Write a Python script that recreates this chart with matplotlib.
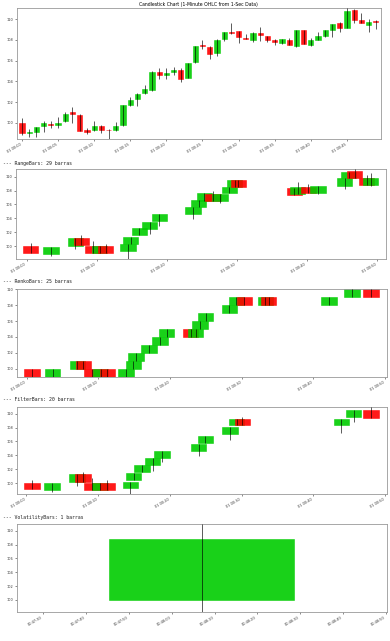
import numpy as np
import pandas as pd
import matplotlib
matplotlib.use('Agg')
import matplotlib.pyplot as plt
import matplotlib.dates as mdates
from matplotlib.ticker import MultipleLocator

# Vela de 1 minuto (OHLC)
base = pd.Timestamp('2024-01-01 00:00:00')
candle_open = [100.0, 99.05, 99.1, 99.68, 99.86, 99.74, 100.16, 101.03, 100.75, 99.3,
               99.26, 99.72, 99.32, 99.26, 99.74, 101.67, 102.32, 102.87, 103.16, 104.86,
               104.64, 104.9, 105.05, 104.32, 105.83, 107.47, 107.34, 106.7, 108.1, 108.73,
               108.86, 108.17, 108.0, 108.63, 108.37, 107.95, 107.7, 108.02, 107.4, 108.99,
               107.54, 107.99, 108.34, 108.95, 109.66, 109.18, 110.88, 109.92, 109.4, 109.85]
candle_high = [100.45, 99.35, 99.6, 100.2, 100.16, 100.6, 101.0, 101.5, 100.8, 99.5,
               100.2, 99.75, 99.35, 100.1, 101.7, 102.45, 102.9, 103.67, 104.95, 105.25,
               105.3, 105.4, 105.25, 105.8, 107.4, 107.95, 107.4, 108.05, 108.8, 109.6,
               108.9, 108.53, 108.75, 109.24, 108.4, 108.1, 108.1, 108.15, 109.0, 109.0,
               108.15, 108.73, 109.0, 109.55, 109.7, 111.05, 110.95, 110.56, 109.98, 109.9]
candle_low = [98.8, 98.65, 98.65, 99.15, 99.5, 99.45, 100.1, 100.0, 99.2, 98.9,
              99.2, 99.0, 98.43, 99.2, 99.7, 101.6, 101.65, 102.8, 103.1, 104.25,
              104.25, 104.57, 103.96, 104.3, 105.8, 107.08, 106.2, 106.47, 107.92, 108.6,
              107.73, 108.05, 107.83, 107.9, 107.83, 107.47, 107.65, 107.5, 107.35, 107.6,
              107.45, 107.95, 108.3, 108.24, 108.76, 109.1, 109.6, 109.6, 108.73, 109.08]
candle_close = [99.05, 99.07, 99.55, 99.95, 99.83, 100.0, 100.8, 100.84, 99.23, 99.15,
                99.72, 99.28, 99.28, 99.72, 101.67, 102.22, 102.8, 103.22, 104.9, 104.64,
                104.8, 105.05, 104.25, 105.76, 107.37, 107.43, 106.63, 108.02, 108.76, 108.7,
                108.28, 108.12, 108.7, 108.5, 108.0, 107.78, 108.05, 107.54, 108.95, 107.63,
                107.95, 108.34, 108.99, 109.5, 109.18, 110.82, 109.92, 109.66, 109.73, 109.7]

# RangeBars (segundos desde el inicio)
range_sec = [37, 210, 418, 469, 568, 628, 677, 870, 894, 968, 1054, 1136, 1427, 1476, 1524,
             1598, 1658, 1736, 1784, 1814, 2296, 2324, 2413, 2498, 2726, 2762, 2813, 2914, 2948]
range_open = [100.04, 98.94, 100.09, 101.15, 100.04, 99.0, 100.04, 99.33, 100.33, 101.58,
              102.53, 103.6, 104.7, 105.64, 106.54, 107.46, 106.46, 107.6, 108.5, 109.5,
              108.3, 107.5, 108.55, 107.6, 108.7, 109.74, 110.75, 109.85, 108.8]
range_high = [100.43, 99.94, 101.15, 101.58, 100.76, 100.04, 100.3, 100.33, 101.38, 102.58,
              103.53, 104.6, 105.7, 106.64, 107.6, 107.93, 107.46, 108.55, 109.5, 109.5,
              108.3, 109.18, 108.94, 108.6, 109.74, 110.7, 111.09, 110.3, 110.47]
range_low = [99.04, 98.65, 99.57, 100.14, 99.0, 99.0, 99.0, 98.18, 100.33, 101.58,
             101.76, 102.95, 103.9, 105.64, 106.54, 106.46, 106.26, 107.6, 108.5, 108.5,
             107.3, 107.5, 107.6, 107.5, 108.18, 109.74, 109.8, 108.8, 108.7]
range_close = [99.04, 99.94, 101.15, 100.14, 99.0, 100.04, 99.0, 100.33, 101.38, 102.58,
               103.53, 104.6, 105.7, 106.64, 107.6, 106.46, 107.46, 108.55, 109.5, 108.5,
               107.3, 108.55, 107.6, 108.6, 109.74, 110.7, 109.8, 108.8, 109.85]

# RenkoBars
renko_sec = [47, 218, 425, 476, 547, 620, 677, 830, 894, 914, 1025, 1117, 1172,
             1373, 1414, 1453, 1498, 1697, 1755, 1822, 1999, 2026, 2531, 2725, 2884]
renko_open = [100, 99, 100, 101, 100, 99, 100, 99, 100, 101, 102, 103, 104,
              105, 104, 105, 106, 107, 108, 109, 108, 109, 108, 109, 110]
renko_close = [99, 100, 101, 100, 99, 100, 99, 100, 101, 102, 103, 104, 105,
               104, 105, 106, 107, 108, 109, 108, 109, 108, 109, 110, 109]

# FilterBars
filter_sec = [52, 218, 426, 476, 552, 618, 680, 872, 899, 968, 1057, 1135, 1442, 1497,
              1703, 1758, 1806, 2634, 2736, 2882]
filter_open = [100.05, 99.0, 100.19, 101.24, 100.0, 99.0, 100.0, 99.23, 100.38, 101.63,
               102.58, 103.64, 104.7, 105.84, 107.08, 108.33, 109.28, 108.33, 109.52, 110.6]
filter_high = [100.43, 99.95, 101.24, 101.63, 100.77, 100.0, 100.4, 100.2, 101.4, 102.58,
               103.64, 104.6, 105.7, 106.8, 108.1, 109.28, 109.52, 109.28, 110.6, 111.05]
filter_low = [99.1, 98.66, 99.52, 100.19, 99.0, 99.0, 99.0, 98.38, 100.38, 101.63,
              101.77, 103.06, 103.92, 105.84, 106.22, 108.33, 108.33, 107.27, 108.8, 109.4]
filter_close = [99.1, 99.95, 101.24, 100.19, 99.0, 100.0, 99.0, 100.2, 101.4, 102.58,
                103.64, 104.6, 105.7, 106.8, 108.1, 109.28, 108.33, 109.28, 110.6, 109.4]

# VolatilityBars
vol_sec = [2887]
vol_open = [100.0]
vol_high = [110.92]
vol_low = [98.31]
vol_close = [108.8]

GREEN = '#00cc00'
RED = '#ff0000'
W, H = 390, 641


def rect(l, t, r, b):
    return [l / W, 1 - b / H, (r - l) / W, (b - t) / H]


def draw_bars(ax, times, o, h, l, c, width):
    x = mdates.date2num(times)
    o, h, l, c = (np.asarray(v, dtype=float) for v in (o, h, l, c))
    colors = [GREEN if cc >= oo else RED for oo, cc in zip(o, c)]
    ax.bar(x, np.abs(c - o), width=width, bottom=np.minimum(o, c), color=colors,
           edgecolor=colors, linewidth=0.4, alpha=0.9, zorder=2)
    ax.vlines(x, l, h, color='black', linewidth=0.45, zorder=3)
    ax.set_xlim(x[0] - width, x[-1] + width)
    ax.set_ylim(l.min(), h.max())
    ax.xaxis_date()


def style(ax, locator, fmt):
    ax.xaxis.set_major_locator(locator)
    ax.xaxis.set_major_formatter(mdates.DateFormatter(fmt))
    ax.yaxis.set_major_locator(MultipleLocator(2))
    ax.tick_params(axis='both', length=1.5, width=0.4, pad=1, labelsize=2.5, colors='#333333')
    for lab in ax.get_xticklabels():
        lab.set_rotation(30)
        lab.set_ha('right')
    for sp in ax.spines.values():
        sp.set_linewidth(0.6)
        sp.set_color('#999999')


fig = plt.figure(figsize=(W / 100, H / 100), dpi=100)

# Velas de 1 minuto
ax1 = fig.add_axes(rect(16.7, 8.3, 381, 139))
t1 = pd.date_range(base, periods=len(candle_open), freq='min')
draw_bars(ax1, t1, candle_open, candle_high, candle_low, candle_close, 0.0005)
style(ax1, mdates.MinuteLocator(byminute=range(0, 60, 5)), '%d %H:%M')
ax1.set_title('Candlestick Chart (1-Minute OHLC from 1-Sec Data)', fontsize=3.3, pad=1.5)

panels = [
    ('--- RangeBars: 29 barras', 163, rect(15.7, 169, 385.7, 259),
     range_sec, range_open, range_high, range_low, range_close),
    ('--- RenkoBars: 25 barras', 281.7, rect(16.7, 289.3, 386.7, 376.7),
     renko_sec, renko_open, np.maximum(renko_open, renko_close),
     np.minimum(renko_open, renko_close), renko_close),
    ('--- FilterBars: 20 barras', 399.3, rect(16.7, 406.5, 386.7, 494.3),
     filter_sec, filter_open, filter_high, filter_low, filter_close),
]

for label, ty, r, secs, o, h, l, c in panels:
    fig.text(3 / W, 1 - ty / H, label, family='DejaVu Sans Mono', fontsize=3.5,
             va='center', ha='left', color='#222222')
    ax = fig.add_axes(r)
    times = base + pd.to_timedelta(secs, unit='s')
    draw_bars(ax, times, o, h, l, c, 0.0015)
    style(ax, mdates.MinuteLocator(byminute=range(0, 60, 10)), '%d %H:%M')

fig.text(3 / W, 1 - 517.7 / H, '--- VolatilityBars: 1 barras', family='DejaVu Sans Mono',
         fontsize=3.5, va='center', ha='left', color='#222222')
ax5 = fig.add_axes(rect(16.7, 524.3, 386.7, 611.7))
t5 = base + pd.to_timedelta(vol_sec, unit='s')
draw_bars(ax5, t5, vol_open, vol_high, vol_low, vol_close, 0.0005)
style(ax5, mdates.SecondLocator(bysecond=range(0, 60, 10)), '%H:%M:%S')

fig.savefig('out.png', dpi=100)
